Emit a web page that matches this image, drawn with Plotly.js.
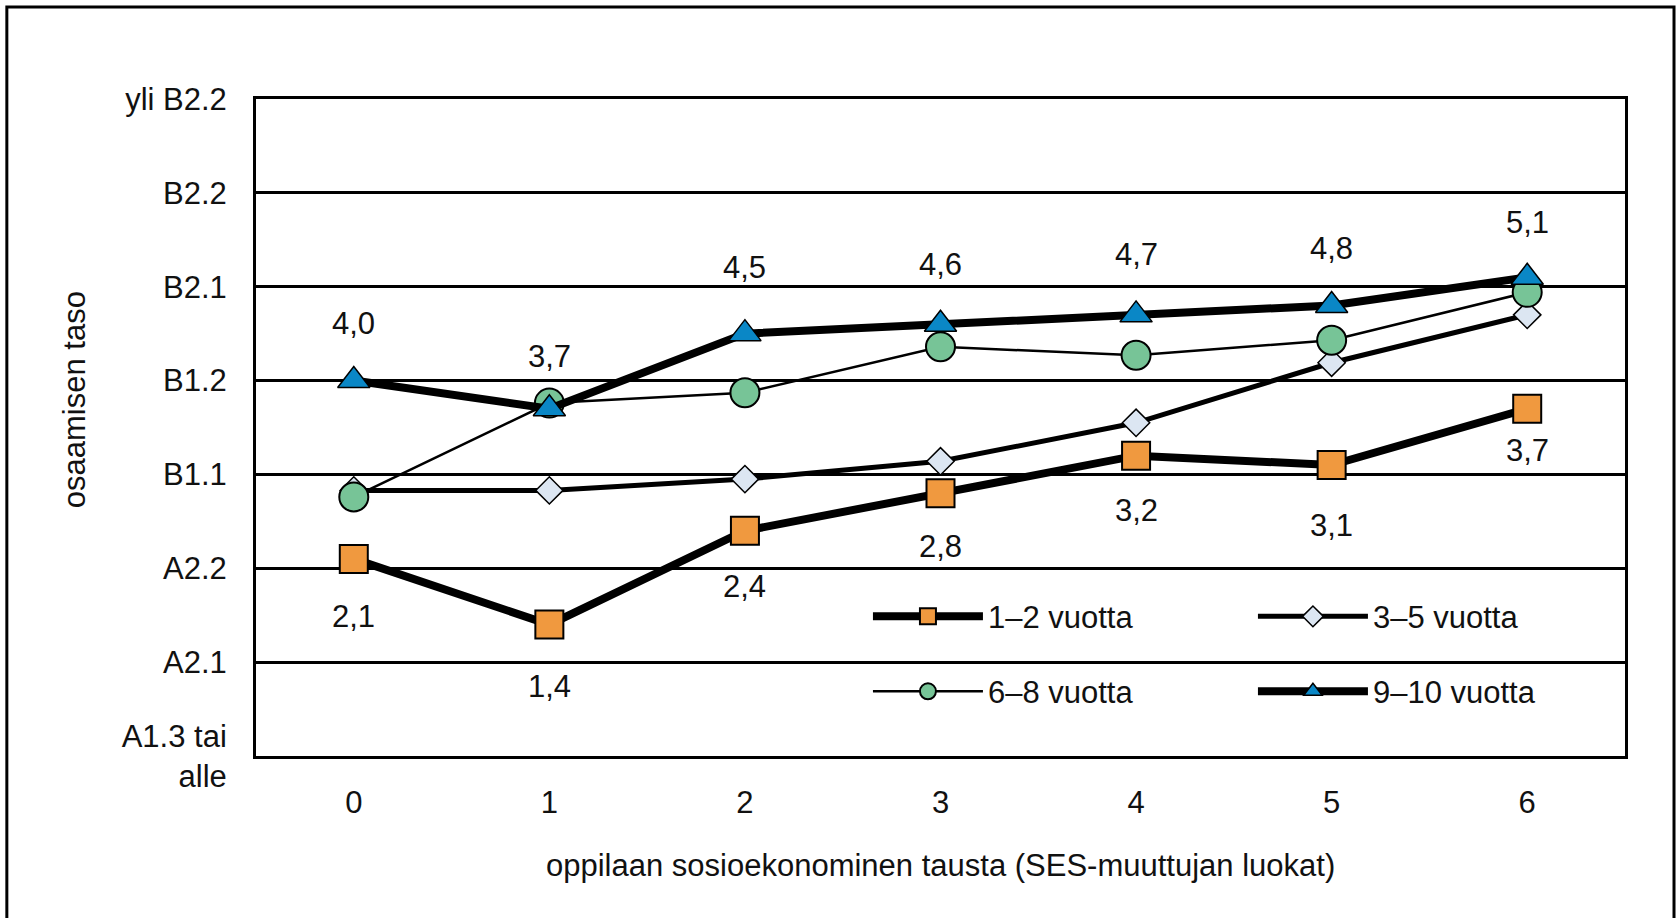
<!DOCTYPE html>
<html>
<head>
<meta charset="utf-8">
<script src="https://cdn.plot.ly/plotly-3.0.1.min.js"></script>
<style>
  body { margin: 0; background: #fff; }
  #chart { width: 1677px; height: 918px; }
</style>
</head>
<body>
<div id="chart"></div>
<script>
// SES-luokat ja osaamistasot
var sesLuokat = [0, 1, 2, 3, 4, 5, 6];
var tasoVals = [0, 1, 2, 3, 4, 5, 6, 7];
var tasoLabels = ["A1.3 tai<br>alle", "A2.1", "A2.2", "B1.1", "B1.2", "B2.1", "B2.2", "yli B2.2"];

// keskiarvot ryhmittäin (opiskeluvuodet)
var vuotta12 = [2.1, 1.4, 2.4, 2.8, 3.2, 3.1, 3.7];
var vuotta35 = [2.83, 2.83, 2.95, 3.14, 3.55, 4.19, 4.70];
var vuotta68 = [2.76, 3.76, 3.87, 4.36, 4.27, 4.43, 4.94];
var vuotta910 = [4.0, 3.7, 4.5, 4.6, 4.7, 4.8, 5.1];
var nimet = ["1–2 vuotta", "3–5 vuotta", "6–8 vuotta", "9–10 vuotta"];

var fontti = "Liberation Sans, Arial, sans-serif";
var koko = 31;

function pilkku(v) {
  return v.toFixed(1).replace(".", ",");
}

var traces = [
  {x: sesLuokat, y: vuotta12, name: nimet[0], type: "scatter", mode: "lines+markers",
   line: {color: "#000", width: 8},
   marker: {symbol: "square", size: 28, color: "#F0993F", line: {color: "#000", width: 2}}},
  {x: sesLuokat, y: vuotta35, name: nimet[1], type: "scatter", mode: "lines+markers",
   line: {color: "#000", width: 5},
   marker: {symbol: "diamond", size: 21, color: "#DCE6F2", line: {color: "#000", width: 1.5}},
   legend: "legend"},
  {x: sesLuokat, y: vuotta68, name: nimet[2], type: "scatter", mode: "lines+markers",
   line: {color: "#000", width: 2.5},
   marker: {symbol: "circle", size: 29, color: "#77C497", line: {color: "#000", width: 2}},
   legend: "legend2"},
  {x: sesLuokat, y: vuotta910, name: nimet[3], type: "scatter", mode: "lines+markers",
   line: {color: "#000", width: 8},
   marker: {symbol: "triangle-up", size: 28, color: "#0A87C6", line: {color: "#000", width: 1.5}},
   legend: "legend2"}
];

// arvojen tekstit: 9-10 v. yläpuolelle, 1-2 v. alapuolelle
var ylos = [57, 52, 66, 60, 60, 57, 55];
var alas = [-58, -62, -56, -53, -55, -60, -42];
var annotations = [];
for (var i = 0; i < sesLuokat.length; i++) {
  annotations.push({x: sesLuokat[i], y: vuotta910[i], text: pilkku(vuotta910[i]), showarrow: false, yshift: ylos[i], font: {family: fontti, size: koko, color: "#111"}});
  annotations.push({x: sesLuokat[i], y: vuotta12[i], text: pilkku(vuotta12[i]), showarrow: false, yshift: alas[i], font: {family: fontti, size: koko, color: "#111"}});
}
annotations.push({xref: "paper", yref: "paper", x: -0.132, y: 0.542, xanchor: "center", yanchor: "middle", text: "osaamisen taso", textangle: -90, showarrow: false, font: {family: fontti, size: koko, color: "#111"}});
annotations.push({xref: "paper", yref: "paper", x: 0.5, y: -0.166, xanchor: "center", yanchor: "middle", text: "oppilaan sosioekonominen tausta (SES-muuttujan luokat)", showarrow: false, font: {family: fontti, size: koko, color: "#111"}});

// kaksi selitettä, jotta saadaan 2 x 2 ruudukko
var legendBase = {orientation: "h", xanchor: "left", yanchor: "middle", bgcolor: "rgba(0,0,0,0)",
  entrywidth: 260, entrywidthmode: "pixels", itemwidth: 110, font: {family: fontti, size: koko, color: "#111"}};

var layout = {
  width: 1677, height: 918,
  margin: {l: 256, r: 52, t: 99, b: 162},
  paper_bgcolor: "#fff", plot_bgcolor: "#fff",
  font: {family: fontti, size: koko, color: "#111"},
  xaxis: {range: [-0.5, 6.5], tickvals: sesLuokat, showgrid: false, zeroline: false,
    showline: true, mirror: true, linecolor: "#000", linewidth: 3, ticks: "", ticklabelstandoff: 17},
  yaxis: {range: [0, 7], tickvals: tasoVals, ticktext: tasoLabels, showgrid: true, gridcolor: "#000", gridwidth: 3,
    zeroline: false, showline: true, mirror: true, linecolor: "#000", linewidth: 3, ticks: "", ticklabelstandoff: 20},
  legend: Object.assign({}, legendBase, {x: 0.447, y: 0.212}),
  legend2: Object.assign({}, legendBase, {x: 0.447, y: 0.098}),
  annotations: annotations,
  shapes: [{type: "rect", xref: "paper", yref: "paper", x0: -0.182, x1: 1.0358, y0: -0.3, y1: 1.14,
    line: {color: "#000", width: 3}}]
};

Plotly.newPlot("chart", traces, layout, {displayModeBar: false});
</script>
</body>
</html>
